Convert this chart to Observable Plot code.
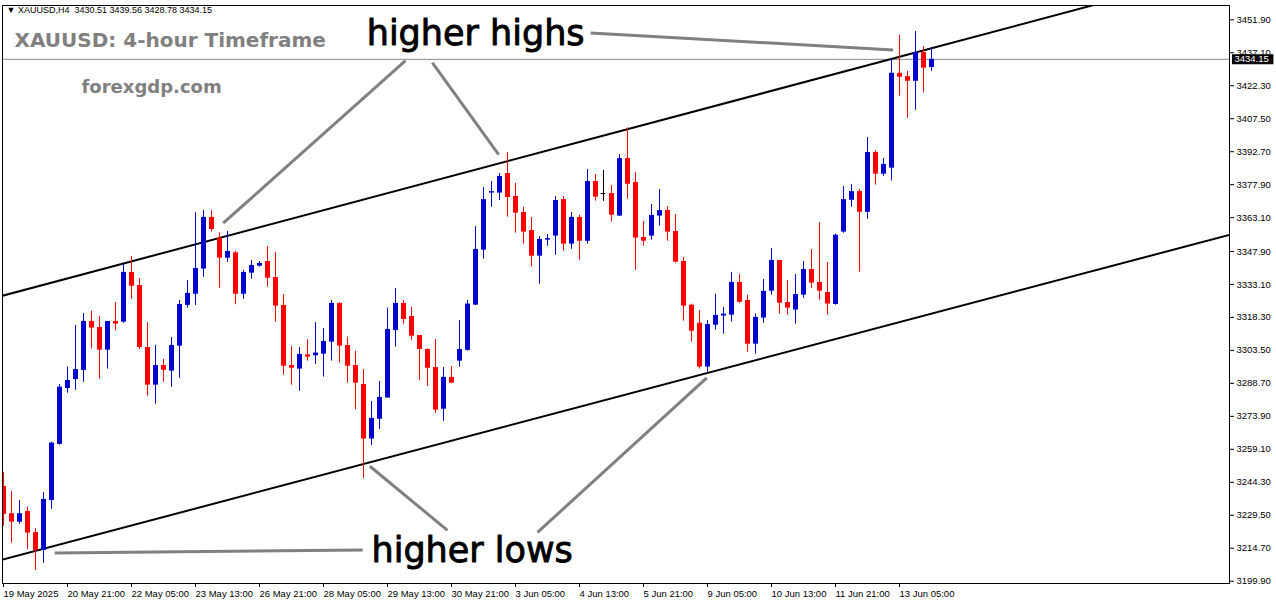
<!DOCTYPE html>
<html><head><meta charset="utf-8">
<script src="https://cdn.jsdelivr.net/npm/d3@7"></script>
<script src="https://cdn.jsdelivr.net/npm/@observablehq/plot@0.6"></script>
<style>
html,body{margin:0;padding:0;background:#fff;overflow:hidden;}
#chart svg{display:block;}
</style>
</head><body><div id="chart"></div>
<script>
// ---- data (XAUUSD H4) ----
const opens = [3242.4,3230.2,3226.4,3231.2,3221.7,3213.7,3236.1,3261.3,3286.4,3290.4,3294.5,3316.5,3313.8,3303.6,3316.5,3316.2,3338.5,3332.6,3304.8,3287.9,3296.7,3294.2,3305.4,3323.7,3328.7,3340.0,3363.2,3353.9,3344.9,3347.3,3328.7,3338.2,3341.3,3343.4,3336.2,3323.7,3296.7,3295.1,3301.5,3301.1,3301.8,3307.2,3324.6,3305.7,3296.7,3288.2,3263.7,3272.6,3282.1,3312.4,3324.6,3318.7,3310.2,3303.9,3295.8,3277.1,3291.4,3298.7,3303.5,3323.8,3348.5,3374.1,3374.1,3382.9,3372.6,3365.4,3357.3,3345.8,3353.0,3354.8,3371.2,3351.2,3363.2,3352.5,3379.3,3373.9,3373.9,3363.8,3389.6,3378.9,3354.2,3354.8,3363.8,3366.3,3356.9,3343.4,3323.8,3315.7,3296.0,3314.8,3318.9,3319.3,3334.0,3325.9,3306.3,3318.0,3330.1,3343.9,3325.0,3321.6,3328.3,3339.8,3334.0,3329.5,3324.1,3356.6,3370.9,3374.8,3365.5,3392.3,3382.6,3385.3,3427.9,3426.4,3424.3,3437.2,3430.51];
const highs = [3248.8,3240.2,3236.1,3233.1,3223.4,3239.7,3262.3,3288.2,3296.0,3314.7,3320.1,3321.0,3318.7,3316.5,3325.0,3342.4,3345.7,3335.8,3316.0,3305.8,3299.4,3309.3,3325.9,3334.9,3365.3,3366.3,3366.3,3356.3,3356.9,3347.9,3339.4,3343.9,3343.4,3350.2,3347.5,3328.6,3305.3,3304.8,3308.3,3316.0,3313.3,3325.9,3324.9,3309.4,3303.0,3294.9,3280.6,3289.6,3322.5,3331.3,3325.9,3322.8,3310.2,3304.2,3308.4,3295.8,3296.3,3316.9,3325.9,3359.1,3376.6,3379.3,3382.9,3392.3,3378.4,3367.7,3363.2,3354.6,3355.5,3372.6,3372.6,3365.4,3364.1,3384.7,3382.5,3384.3,3377.5,3391.4,3403.4,3383.4,3361.4,3369.0,3375.7,3368.1,3364.5,3345.3,3324.3,3321.4,3316.9,3328.7,3322.8,3338.5,3337.6,3328.2,3319.8,3335.3,3349.3,3343.9,3334.9,3337.6,3343.4,3348.8,3360.9,3343.0,3355.7,3377.1,3378.0,3375.7,3399.1,3393.2,3389.6,3434.1,3444.9,3428.7,3446.6,3439.9,3439.56];
const lows = [3224.6,3217.0,3225.4,3214.2,3204.7,3208.0,3232.2,3261.0,3284.3,3285.6,3289.2,3304.1,3290.6,3295.1,3312.3,3315.7,3326.4,3303.9,3283.0,3279.4,3289.2,3287.0,3291.0,3322.5,3323.7,3336.4,3356.6,3331.4,3343.0,3324.0,3326.5,3335.5,3340.9,3331.9,3316.2,3292.4,3287.9,3285.2,3298.7,3297.2,3291.5,3298.7,3297.8,3288.8,3276.9,3245.9,3260.8,3268.0,3282.1,3305.0,3315.3,3308.0,3290.0,3287.3,3275.3,3271.7,3288.8,3296.0,3303.2,3323.8,3344.5,3367.8,3370.8,3363.3,3356.1,3351.2,3340.9,3333.2,3350.2,3346.2,3348.0,3348.9,3344.0,3351.2,3370.5,3370.4,3361.1,3363.6,3371.4,3339.5,3350.3,3353.0,3359.3,3352.5,3342.7,3316.6,3307.2,3295.1,3293.7,3312.6,3310.8,3316.2,3324.7,3302.7,3301.8,3315.7,3328.3,3319.8,3319.3,3315.3,3326.9,3331.4,3326.1,3319.3,3323.8,3356.1,3367.8,3338.6,3362.4,3377.7,3381.7,3379.5,3417.6,3407.7,3411.3,3419.0,3428.78];
const closes = [3229.9,3226.4,3230.2,3221.5,3213.7,3236.6,3261.9,3287.0,3290.0,3294.9,3316.5,3313.5,3303.6,3316.5,3315.3,3338.5,3332.3,3304.8,3287.9,3296.7,3294.6,3305.7,3324.1,3329.1,3340.3,3363.2,3357.8,3344.9,3347.9,3328.7,3338.5,3341.6,3342.5,3335.9,3323.4,3296.4,3295.5,3301.7,3300.5,3302.3,3307.5,3324.6,3305.4,3296.4,3288.8,3263.7,3273.0,3282.4,3312.9,3324.6,3317.4,3309.9,3303.9,3295.5,3276.7,3291.4,3288.8,3303.9,3324.3,3348.8,3371.2,3374.8,3381.6,3372.1,3365.1,3356.6,3345.8,3353.3,3353.7,3370.8,3351.2,3363.2,3352.5,3379.3,3372.3,3373.9,3364.2,3389.6,3378.1,3353.9,3352.5,3364.1,3366.3,3356.6,3343.1,3323.4,3312.1,3296.0,3315.1,3319.2,3319.8,3334.0,3325.1,3306.3,3318.3,3330.0,3343.9,3324.7,3322.5,3328.6,3339.8,3333.7,3330.1,3324.3,3355.2,3371.2,3374.8,3365.5,3392.3,3382.6,3387.0,3427.9,3426.1,3424.3,3437.2,3430.2,3434.15];

const xTickIndex = [0,8,16,24,32,40,48,56,64,72,80,88,96,104,112];
const xTickLabels = ["19 May 2025","20 May 21:00","22 May 05:00","23 May 13:00","26 May 21:00","28 May 05:00","29 May 13:00","30 May 21:00","3 Jun 05:00","4 Jun 13:00","5 Jun 21:00","9 Jun 05:00","10 Jun 13:00","11 Jun 21:00","13 Jun 05:00"];
const yTicks = [3451.90,3437.10,3422.30,3407.50,3392.70,3377.90,3363.10,3347.90,3333.10,3318.30,3303.50,3288.70,3273.90,3259.10,3244.30,3229.50,3214.70,3199.90];

const currentPrice = 3434.15;
const headerText = "\u25BC XAUUSD,H4\u00a0\u00a03430.51 3439.56 3428.78 3434.15";

// channel lines (bar index, price)
const upperChannel = [{i:-1, p:3327.2},{i:140, p:3462.1}];
const lowerChannel = [{i:-1, p:3208.75},{i:160, p:3361.8}];

// annotation segments (bar index, price)
const arrows = [
  {i1:50.25, p1:3433.6, i2:27.46, p2:3360.6},
  {i1:53.6,  p1:3432.7, i2:61.9,  p2:3391.4},
  {i1:73.4,  p1:3446.0, i2:111.2, p2:3438.4},
  {i1:6.4,   p1:3212.6, i2:44.9,  p2:3213.9},
  {i1:45.8,  p1:3251.5, i2:55.5,  p2:3222.7},
  {i1:87.9,  p1:3291.2, i2:66.75, p2:3221.8}
];
const notes = [
  {i:45.4, p:3440.8, text:"higher highs"},
  {i:46.0, p:3208.3, text:"higher lows"}
];

// ---- build ----
const candles = opens.map((o, k) => ({i:k, open:o, high:highs[k], low:lows[k], close:closes[k]}));
const candleColor = d => d.close > d.open ? "#0000cd" : d.close < d.open ? "#ff0000" : "#000000";
const labelOf = new Map(xTickIndex.map((v, k) => [v, xTickLabels[k]]));

const chart = Plot.plot({
  width: 1276,
  height: 604,
  marginLeft: 2,
  marginRight: 47,
  marginTop: 5,
  marginBottom: 21,
  style: {fontFamily: "'Liberation Sans', Arial, sans-serif", fontSize: "9.5px", background: "#fff", color: "#000"},
  x: {type: "linear", domain: [-0.125, 153.25]},
  y: {type: "linear", domain: [3198.87, 3458.32]},
  marks: [
    Plot.ruleY([currentPrice], {y: d => d, stroke: "#808a94", strokeWidth: 1}),
    Plot.line(upperChannel, {x: "i", y: "p", stroke: "#000", strokeWidth: 2, clip: true}),
    Plot.line(lowerChannel, {x: "i", y: "p", stroke: "#000", strokeWidth: 2, clip: true}),
    Plot.ruleX(candles, {x: "i", y1: "low", y2: "high", stroke: candleColor, strokeWidth: 1, clip: true}),
    Plot.ruleX(candles, {x: "i", y1: "open", y2: "close", stroke: candleColor, strokeWidth: 5, clip: true}),
    Plot.ruleY(candles.filter(d => d.open === d.close), {y: "open", x1: d => d.i - 0.3125, x2: d => d.i + 0.3125, stroke: "#000", strokeWidth: 1}),
    Plot.link(arrows, {x1: "i1", y1: "p1", x2: "i2", y2: "p2", stroke: "#808080", strokeWidth: 3, clip: true}),
    Plot.text(notes, {x: "i", y: "p", text: "text", textAnchor: "start", lineAnchor: "bottom", fill: "#000", stroke: "#000", strokeWidth: 0.9, fontSize: 35, fontFamily: "'DejaVu Sans', sans-serif"}),
    Plot.text([headerText], {frameAnchor: "top-left", dx: 4, dy: 5, text: d => d, textAnchor: "start", lineAnchor: "middle", fontSize: 9, fill: "#000"}),
    Plot.text(["XAUUSD: 4-hour Timeframe"], {frameAnchor: "top-left", dx: 12, dy: 41.7, text: d => d, textAnchor: "start", lineAnchor: "bottom", fontSize: 20, fontWeight: "bold", fontFamily: "'DejaVu Sans', sans-serif", fill: "#808080"}),
    Plot.text(["forexgdp.com"], {frameAnchor: "top-left", dx: 79, dy: 87.7, text: d => d, textAnchor: "start", lineAnchor: "bottom", fontSize: 18, fontWeight: "bold", fontFamily: "'DejaVu Sans', sans-serif", fill: "#808080"}),
    Plot.frame({stroke: "#000"}),
    Plot.axisY(yTicks, {anchor: "right", tickSize: 4, tickPadding: 3, tickFormat: d => d.toFixed(2), fill: "#000"}),
    Plot.axisX(xTickIndex, {anchor: "bottom", tickSize: 4, tickPadding: 3, textAnchor: "start", tickFormat: d => labelOf.get(d), fill: "#000"}),
    Plot.ruleY([currentPrice], {y: d => d, x1: 153.62, x2: 158.8, stroke: "#000", strokeWidth: 10}),
    Plot.text([currentPrice], {y: d => d, x: 153.62, dx: 2, text: d => d.toFixed(2), textAnchor: "start", lineAnchor: "middle", fill: "#fff"})
  ]
});
document.getElementById("chart").appendChild(chart);
</script>
</body></html>
